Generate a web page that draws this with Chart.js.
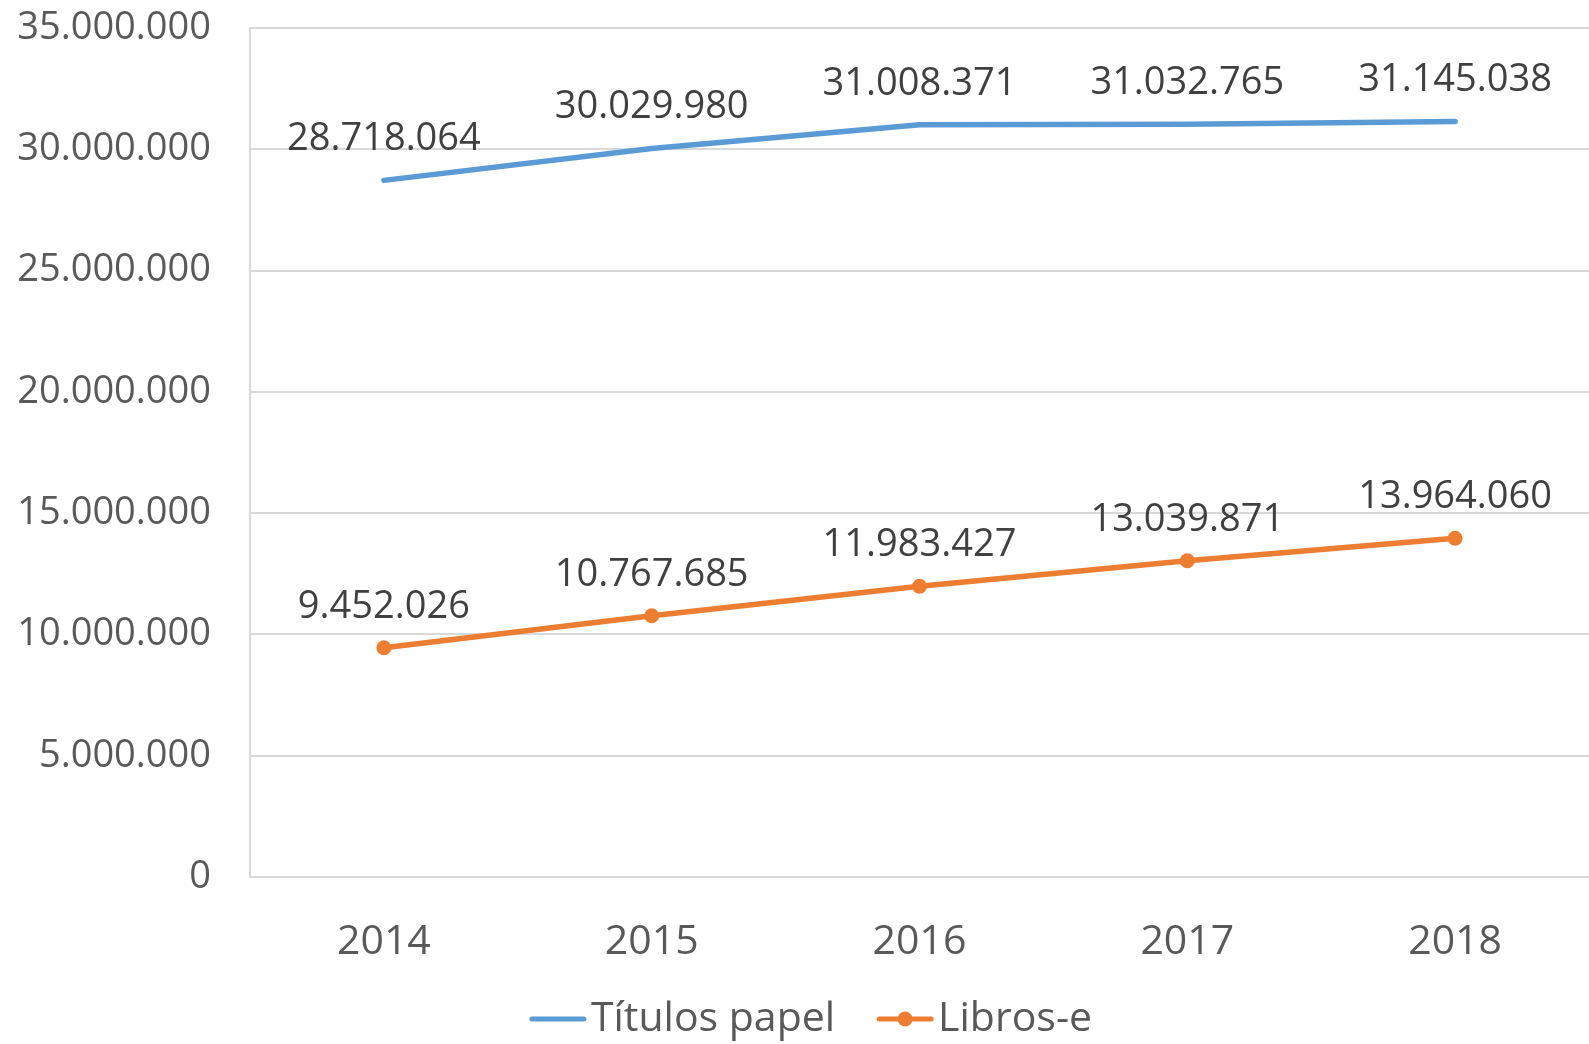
<!DOCTYPE html>
<html lang="es">
<head>
<meta charset="UTF-8">
<title>Títulos papel y Libros-e</title>
<script src="https://cdn.jsdelivr.net/npm/chart.js@4.4.1/dist/chart.umd.min.js"></script>
<style>
    html, body { margin: 0; padding: 0; background: #fff; }
    #wrap { width: 1589px; height: 1044px; }
</style>
</head>
<body>
<div id="wrap"><canvas id="grafico"></canvas></div>
<script>
// Datos del gráfico
const anios = ['2014', '2015', '2016', '2017', '2018'];
const titulosPapel = [28718064, 30029980, 31008371, 31032765, 31145038];
const librosE = [9452026, 10767685, 11983427, 13039871, 13964060];
const nombresSeries = ['Títulos papel', 'Libros-e'];

const FUENTE = '"Open Sans", "DejaVu Sans", sans-serif';

// separador de miles con punto
function formatoMiles(v) {
    return String(Math.round(v)).replace(/\B(?=(\d{3})+(?!\d))/g, '.');
}

// etiquetas de datos sobre cada punto
const etiquetasDatos = {
    id: 'etiquetasDatos',
    afterDatasetsDraw(chart) {
        const ctx = chart.ctx;
        ctx.save();
        ctx.font = '38px ' + FUENTE;
        ctx.fillStyle = '#404040';
        ctx.textAlign = 'center';
        ctx.textBaseline = 'middle';
        chart.data.datasets.forEach((ds, i) => {
            chart.getDatasetMeta(i).data.forEach((pt, j) => {
                ctx.fillText(formatoMiles(ds.data[j]), pt.x, pt.y - 41);
            });
        });
        ctx.restore();
    }
};

// leyenda estilo Excel (línea + marcador)
const leyenda = {
    id: 'leyenda',
    afterDraw(chart) {
        const ctx = chart.ctx;
        ctx.save();
        ctx.font = '41px ' + FUENTE;
        ctx.textBaseline = 'middle';
        const largoLinea = 56, sep = 5, hueco = 42;
        const items = chart.data.datasets.map(ds => ({
            ds: ds,
            ancho: largoLinea + sep + ctx.measureText(ds.label).width
        }));
        const total = items.reduce((s, it) => s + it.ancho, 0) + hueco * (items.length - 1);
        let x = 811 - total / 2;
        const y = 1019;
        items.forEach(it => {
            ctx.strokeStyle = it.ds.borderColor;
            ctx.lineWidth = 5;
            ctx.lineCap = 'round';
            ctx.beginPath();
            ctx.moveTo(x + 2, y);
            ctx.lineTo(x + largoLinea - 2, y);
            ctx.stroke();
            if (it.ds.pointRadius > 0) {
                ctx.fillStyle = it.ds.borderColor;
                ctx.beginPath();
                ctx.arc(x + largoLinea / 2, y, it.ds.pointRadius, 0, Math.PI * 2);
                ctx.fill();
            }
            ctx.fillStyle = '#595959';
            ctx.fillText(it.ds.label, x + largoLinea + sep, y);
            x += it.ancho + hueco;
        });
        ctx.restore();
    }
};

new Chart(document.getElementById('grafico'), {
    type: 'line',
    data: {
        labels: anios,
        datasets: [
            {
                label: nombresSeries[0],
                data: titulosPapel,
                borderColor: '#5b9bd5',
                backgroundColor: '#5b9bd5',
                borderWidth: 5.5,
                borderCapStyle: 'round',
                pointRadius: 0,
                pointHoverRadius: 0,
                tension: 0
            },
            {
                label: nombresSeries[1],
                data: librosE,
                borderColor: '#ed7d31',
                backgroundColor: '#ed7d31',
                borderWidth: 5.5,
                borderCapStyle: 'round',
                pointRadius: 7.5,
                pointHoverRadius: 7.5,
                pointBorderWidth: 0,
                tension: 0
            }
        ]
    },
    options: {
        responsive: true,
        maintainAspectRatio: false,
        animation: false,
        layout: { autoPadding: false, padding: { top: 28, right: 0, bottom: 0, left: 0 } },
        plugins: {
            legend: { display: false },
            tooltip: { enabled: false }
        },
        scales: {
            x: {
                offset: true,
                grid: { display: false, drawTicks: false },
                border: { display: true, color: '#d9d9d9', width: 2 },
                ticks: {
                    color: '#595959',
                    font: { family: FUENTE, size: 41 },
                    padding: 41
                },
                afterFit(scale) {
                    scale.height = 167;
                    scale.paddingLeft = 0;
                    scale.paddingRight = 0;
                }
            },
            y: {
                min: 0,
                max: 35000000,
                grid: { color: '#d9d9d9', lineWidth: 2, drawTicks: false },
                border: { display: true, color: '#d9d9d9', width: 2 },
                ticks: {
                    stepSize: 5000000,
                    color: '#595959',
                    font: { family: FUENTE, size: 38 },
                    padding: 39,
                    callback: v => formatoMiles(v)
                },
                afterFit(scale) {
                    scale.width = 250;
                    scale.paddingTop = 0;
                    scale.paddingBottom = 0;
                }
            }
        }
    },
    plugins: [etiquetasDatos, leyenda]
});
</script>
</body>
</html>
